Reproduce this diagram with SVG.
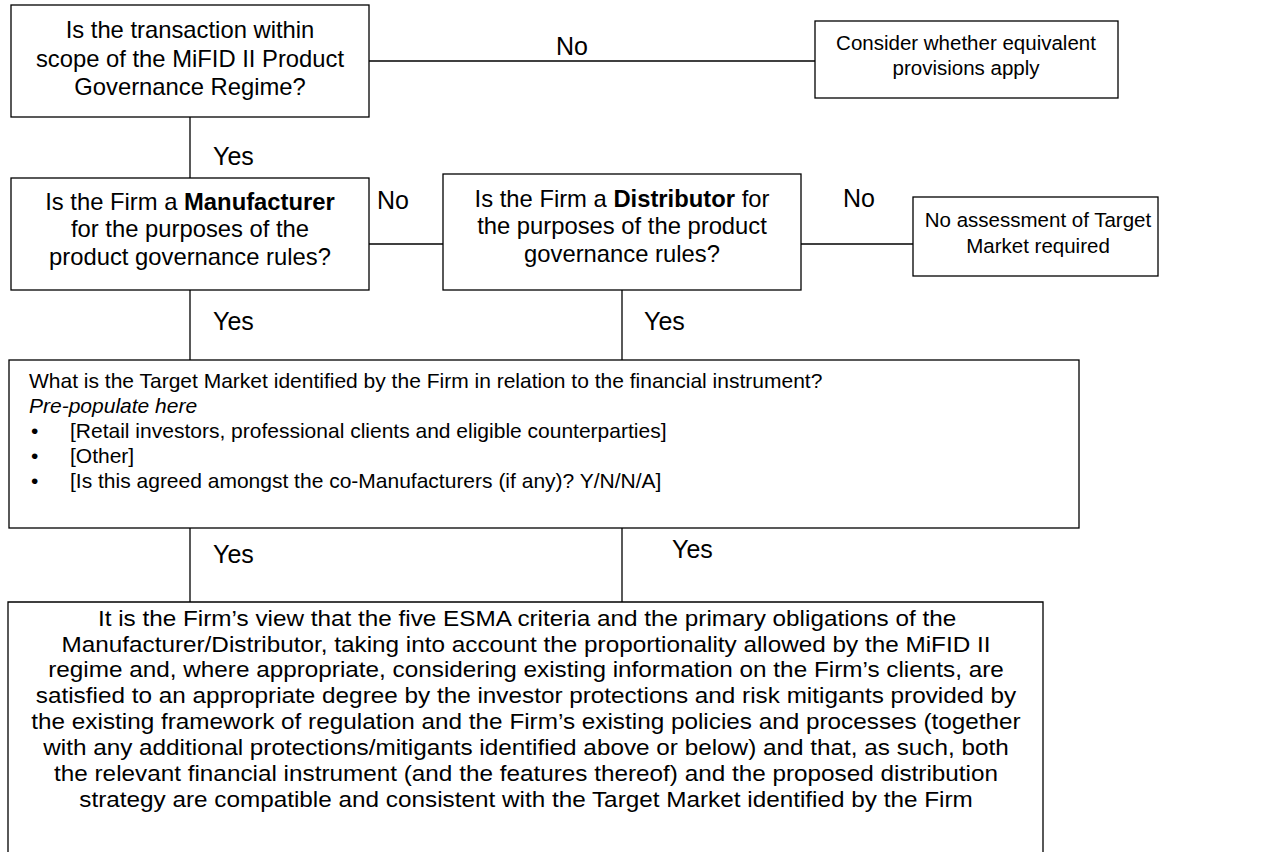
<svg xmlns="http://www.w3.org/2000/svg" width="1277" height="852" viewBox="0 0 1277 852">
<style>
.box{fill:#fff;stroke:#000;stroke-width:1.3}
.ln{stroke:#000;stroke-width:1.3;fill:none}
text{font-family:"Liberation Sans",Arial,sans-serif;fill:#000}
.t1{font-size:23.8px;text-anchor:middle}
.t2{font-size:20.5px;text-anchor:middle}
.lab{font-size:25px}
.t3{font-size:21px}
.t4{font-size:22.3px;text-anchor:middle}
</style>
<rect width="1277" height="852" fill="#fff"/>
<g id="connectors">
<line class="ln" x1="369" y1="61" x2="815" y2="61"/>
<line class="ln" x1="190" y1="117" x2="190" y2="178"/>
<line class="ln" x1="369" y1="244" x2="443" y2="244"/>
<line class="ln" x1="801" y1="244" x2="913" y2="244"/>
<line class="ln" x1="190" y1="290" x2="190" y2="360"/>
<line class="ln" x1="622" y1="290" x2="622" y2="360"/>
<line class="ln" x1="190" y1="528" x2="190" y2="602"/>
<line class="ln" x1="622" y1="528" x2="622" y2="602"/>
<text class="lab" x="572" y="55" text-anchor="middle">No</text>
<text class="lab" x="213" y="165">Yes</text>
<text class="lab" x="377" y="209">No</text>
<text class="lab" x="843" y="207">No</text>
<text class="lab" x="213" y="330">Yes</text>
<text class="lab" x="644" y="330">Yes</text>
<text class="lab" x="213" y="563">Yes</text>
<text class="lab" x="672" y="558">Yes</text>
</g>
<g id="scope">
<rect class="box" x="11" y="5" width="358" height="112"/>
<text class="t1" x="190" y="38">Is the transaction within</text>
<text class="t1" x="190" y="67">scope of the MiFID II Product</text>
<text class="t1" x="190" y="95">Governance Regime?</text>
</g>
<g id="equivalent">
<rect class="box" x="815" y="21" width="303" height="77"/>
<text class="t2" x="966" y="50">Consider whether equivalent</text>
<text class="t2" x="966" y="75">provisions apply</text>
</g>
<g id="manufacturer">
<rect class="box" x="11" y="178" width="358" height="112"/>
<text class="t1" x="190" y="210">Is the Firm a <tspan font-weight="bold">Manufacturer</tspan></text>
<text class="t1" x="190" y="237">for the purposes of the</text>
<text class="t1" x="190" y="265">product governance rules?</text>
</g>
<g id="distributor">
<rect class="box" x="443" y="174" width="358" height="116"/>
<text class="t1" x="622" y="207">Is the Firm a <tspan font-weight="bold">Distributor</tspan> for</text>
<text class="t1" x="622" y="234">the purposes of the product</text>
<text class="t1" x="622" y="262">governance rules?</text>
</g>
<g id="noassessment">
<rect class="box" x="913" y="197" width="245" height="79"/>
<text class="t2" x="1038" y="227">No assessment of Target</text>
<text class="t2" x="1038" y="253">Market required</text>
</g>
<g id="targetmarket">
<rect class="box" x="9" y="360" width="1070" height="168"/>
<text class="t3" x="29" y="388">What is the Target Market identified by the Firm in relation to the financial instrument?</text>
<text class="t3" x="29" y="413" font-style="italic">Pre-populate here</text>
<text class="t3" x="31" y="438">•</text>
<text class="t3" x="70" y="438">[Retail investors, professional clients and eligible counterparties]</text>
<text class="t3" x="31" y="463">•</text>
<text class="t3" x="70" y="463">[Other]</text>
<text class="t3" x="31" y="488">•</text>
<text class="t3" x="70" y="488">[Is this agreed amongst the co-Manufacturers (if any)? Y/N/N/A]</text>
</g>
<g id="conclusion">
<path class="ln" d="M8 852 V602 H1043 V852" style="fill:#fff"/>
<g transform="translate(526 0) scale(1.09 1)">
<text class="t4" x="1" y="626">It is the Firm’s view that the five ESMA criteria and the primary obligations of the</text>
<text class="t4" x="0" y="652">Manufacturer/Distributor, taking into account the proportionality allowed by the MiFID II</text>
<text class="t4" x="0" y="677">regime and, where appropriate, considering existing information on the Firm’s clients, are</text>
<text class="t4" x="0" y="703">satisfied to an appropriate degree by the investor protections and risk mitigants provided by</text>
<text class="t4" x="0" y="729">the existing framework of regulation and the Firm’s existing policies and processes (together</text>
<text class="t4" x="0" y="755">with any additional protections/mitigants identified above or below) and that, as such, both</text>
<text class="t4" x="0" y="781">the relevant financial instrument (and the features thereof) and the proposed distribution</text>
<text class="t4" x="0" y="807">strategy are compatible and consistent with the Target Market identified by the Firm</text>
</g>
</g>
</svg>
